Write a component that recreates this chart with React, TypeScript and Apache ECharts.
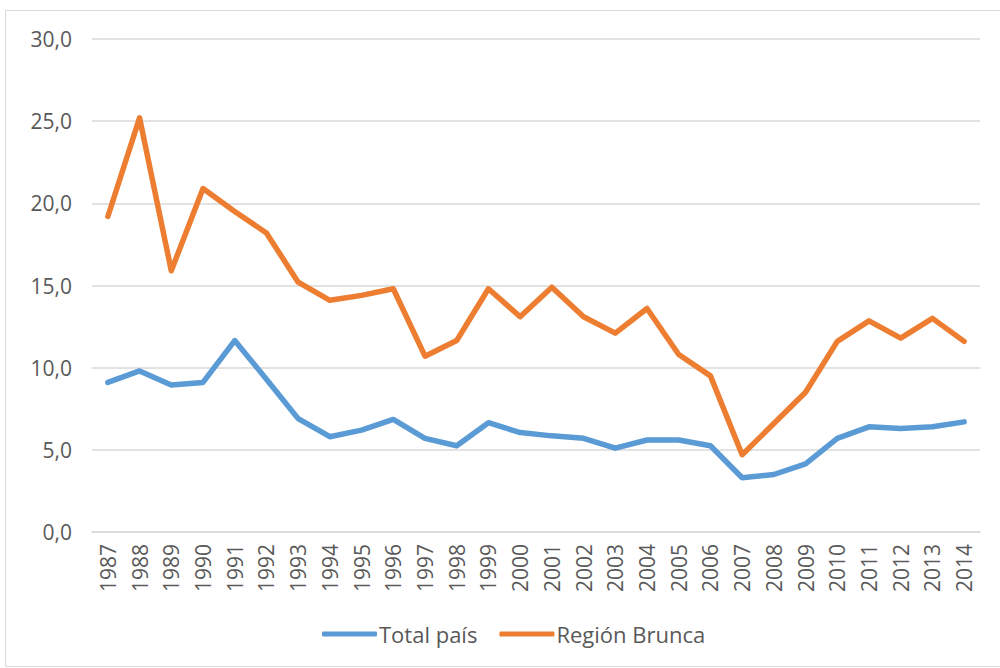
import React, { useEffect, useRef } from "react";
import * as echarts from "echarts";

const years = ["1987","1988","1989","1990","1991","1992","1993","1994","1995","1996","1997","1998","1999","2000","2001","2002","2003","2004","2005","2006","2007","2008","2009","2010","2011","2012","2013","2014"];
const totalPais = [9.1,9.8,8.95,9.1,11.65,9.3,6.9,5.8,6.2,6.85,5.7,5.25,6.65,6.05,5.85,5.7,5.1,5.6,5.6,5.25,3.3,3.5,4.15,5.7,6.4,6.3,6.4,6.7];
const regionBrunca = [19.2,25.2,15.9,20.9,19.5,18.2,15.2,14.1,14.4,14.8,10.7,11.65,14.8,13.1,14.9,13.1,12.1,13.6,10.8,9.5,4.7,6.6,8.5,11.6,12.85,11.8,13.0,11.6];
const yTicks = [0, 5, 10, 15, 20, 25, 30];

const FONT = "'Open Sans', 'Liberation Sans', sans-serif";

export default function App() {
  const ref = useRef<HTMLDivElement>(null);
  useEffect(() => {
    if (!ref.current) return;
    const chart = echarts.init(ref.current, undefined, { renderer: "svg" });
    chart.setOption({
      animation: false,
      backgroundColor: "#ffffff",
      grid: { left: 92, right: 20, top: 39, bottom: 136 },
      graphic: [
        {
          type: "rect",
          shape: { x: 5.5, y: 10.5, width: 1000, height: 656 },
          style: { fill: "none", stroke: "#d9d9d9", lineWidth: 1 },
          silent: true,
        },
      ],
      legend: {
        bottom: 18,
        left: 317,
        itemWidth: 55,
        itemHeight: 5,
        itemGap: 22,
        icon: "roundRect",
        textStyle: { fontFamily: FONT, fontSize: 22, color: "#595959", padding: [0, 0, 0, -3] },
        data: ["Total país", "Región Brunca"],
      },
      xAxis: {
        type: "category",
        data: years,
        boundaryGap: true,
        axisLine: { lineStyle: { color: "#d9d9d9", width: 1.5 } },
        axisTick: { show: false },
        axisLabel: {
          rotate: 90,
          interval: 0,
          margin: 12,
          fontFamily: FONT,
          fontSize: 21,
          color: "#595959",
        },
      },
      yAxis: {
        type: "value",
        min: yTicks[0],
        max: yTicks[yTicks.length - 1],
        interval: 5,
        axisLine: { show: false },
        axisTick: { show: false },
        splitLine: { lineStyle: { color: "#d9d9d9", width: 1.5 } },
        axisLabel: {
          margin: 20,
          fontFamily: FONT,
          fontSize: 21,
          color: "#595959",
          formatter: (v: number) => v.toFixed(1).replace(".", ","),
        },
      },
      series: [
        {
          name: "Total país",
          type: "line",
          data: totalPais,
          symbol: "none",
          lineStyle: { color: "#5B9BD5", width: 5.5, cap: "round", join: "round" },
          itemStyle: { color: "#5B9BD5" },
        },
        {
          name: "Región Brunca",
          type: "line",
          data: regionBrunca,
          symbol: "none",
          lineStyle: { color: "#ED7D31", width: 5.5, cap: "round", join: "round" },
          itemStyle: { color: "#ED7D31" },
        },
      ],
    });
    return () => chart.dispose();
  }, []);
  return <div ref={ref} style={{ width: 1000, height: 668, position: "absolute", left: 0, top: 0 }} />;
}
